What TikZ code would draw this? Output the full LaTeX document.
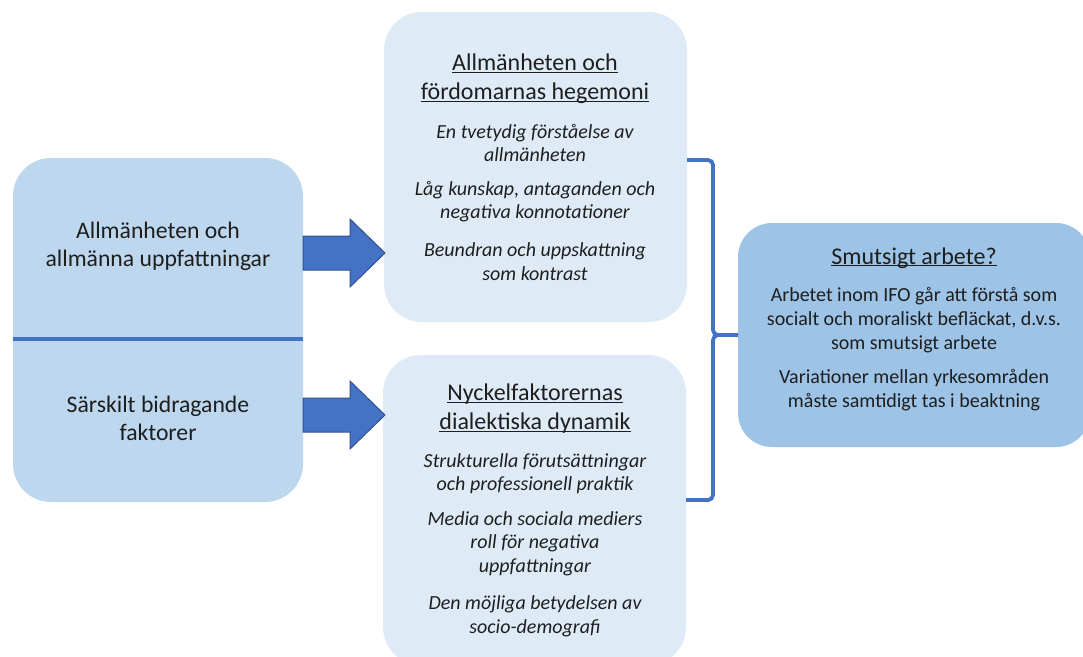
\documentclass[tikz,border=0pt]{standalone}
\usepackage{fontspec}
\setmainfont{Carlito}
\definecolor{boxleft}{HTML}{BDD7EE}
\definecolor{boxmid}{HTML}{DEEBF7}
\definecolor{boxright}{HTML}{9DC3E6}
\definecolor{accent}{HTML}{4472C4}
\definecolor{accentdark}{HTML}{2F528F}
\definecolor{ink}{HTML}{1E1E1E}
% underline at a fixed distance below the baseline, ignoring descenders
\newcommand\ulined[1]{\underline{\smash{#1}}\vphantom{#1}}
\tikzset{
  panel/.style={rounded corners=38pt, draw=none, minimum width=#1},
  lefttext/.style={align=center, text=ink, font=\fontsize{23.7}{28}\selectfont},
  titletext/.style={align=center, text=ink, font=\fontsize{24}{29}\selectfont},
  itemtext/.style={align=center, text=ink, font=\fontsize{20}{23.5}\selectfont\itshape},
  bodytext/.style={align=center, text=ink, font=\fontsize{20}{24}\selectfont},
  brace/.style={draw=accent, line width=3.8pt, rounded corners=5pt},
  blockarrow/.pic={
    \draw[fill=accent, draw=accentdark, line width=1pt]
      (0,-17) -- (47,-17) -- (47,-34) -- (82,0) -- (47,34) -- (47,17) -- (0,17) -- cycle;
  }
}
\begin{document}
\begin{tikzpicture}[x=1pt, y=-1pt, inner sep=0pt, outer sep=0pt]
\useasboundingbox (0,0) rectangle (1083,656);
\clip (0,0) rectangle (1083,656);

% left panel, split in two halves
\node[panel=290pt, minimum height=344pt, fill=boxleft] (left) at (158,330) {};
\draw[accent, line width=3.8pt] (left.west |- 0,339) -- (left.east |- 0,339);
\node[lefttext] (lefttop) at (158,246) {Allmänheten och\\allmänna uppfattningar};
\node[lefttext] (leftbot) at (158,418) {Särskilt bidragande\\faktorer};

% middle panels
\node[panel=303pt, minimum height=310pt, fill=boxmid] (midtop) at (535.5,167) {};
\node[panel=303pt, minimum height=310pt, fill=boxmid] (midbot) at (534.5,510) {};

\node[titletext] (mt0) at (535,79) {\ulined{Allmänheten och}\\\ulined{fördomarnas hegemoni}};
\node[itemtext] (mt1) at (535,143) {En tvetydig förståelse av\\allmänheten};
\node[itemtext] (mt2) at (535,201.5) {Låg kunskap, antaganden och\\negativa konnotationer};
\node[itemtext] (mt3) at (535,261.5) {Beundran och uppskattning\\som kontrast};

\node[titletext] (mb0) at (535,409) {\ulined{Nyckelfaktorernas}\\\ulined{dialektiska dynamik}};
\node[itemtext] (mb1) at (535,473.5) {Strukturella förutsättningar\\och professionell praktik};
\node[itemtext] (mb2) at (535,543.5) {Media och sociala mediers\\roll för negativa\\uppfattningar};
\node[itemtext] (mb3) at (535,616.5) {Den möjliga betydelsen av\\socio-demografi};

% right panel
\node[panel=352pt, minimum height=224pt, fill=boxright, rounded corners=34pt] (right) at (914,335) {};
\node[titletext] (rt0) at (914,258) {\ulined{Smutsigt arbete?}};
\node[bodytext] (rt1) at (914,320) {Arbetet inom IFO går att förstå som\\socialt och moraliskt befläckat, d.v.s.\\som smutsigt arbete};
\node[bodytext] (rt2) at (914,390.5) {Variationer mellan yrkesområden\\måste samtidigt tas i beaktning};

% block arrows from the left panel into the middle panels
\pic at (left.east |- 0,253) {blockarrow};
\pic at (left.east |- 0,415) {blockarrow};

% brace gathering both middle panels into the right panel
\coordinate (bt) at (midtop.east |- 0,160);
\coordinate (bb) at (midbot.east |- 0,500);
\coordinate (bx) at (713,335);
\draw[brace] (bt) -| (bx) -- (right.west);
\draw[brace] (bb) -| (bx) -- (right.west);
\end{tikzpicture}
\end{document}
